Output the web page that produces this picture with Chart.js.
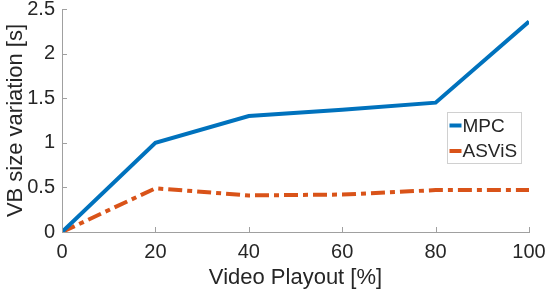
<!DOCTYPE html>
<html>
<head>
<meta charset="utf-8">
<script src="https://cdn.jsdelivr.net/npm/chart.js@4"></script>
<style>
  html, body { margin: 0; padding: 0; background: #fff; }
  #wrap { width: 550px; height: 294px; }
</style>
</head>
<body>
<div id="wrap"><canvas id="grafico" width="550" height="294"></canvas></div>
<script>
// datos
const playout = [0, 20, 40, 60, 80, 100];
const mpc = [0, 1.0, 1.3, 1.37, 1.45, 2.36];
const asvis = [0, 0.49, 0.41, 0.42, 0.47, 0.47];
const seriesNames = ['MPC', 'ASViS'];
const xTicks = [0, 20, 40, 60, 80, 100];
const yTicks = [0, 0.5, 1, 1.5, 2, 2.5];

const FONT = 'Liberation Sans, Arial, sans-serif';
const TXT = '#262626';
const AXIS = '#a0a0a0';

function toPoints(xs, ys) {
  return xs.map((x, i) => ({ x: x, y: ys[i] }));
}

// ticks hacia adentro y leyenda dentro del area
const matlabLook = {
  id: 'matlabLook',
  afterDraw(chart) {
    const c = chart.ctx;
    const xs = chart.scales.x, ys = chart.scales.y;
    const area = chart.chartArea;
    c.save();
    c.strokeStyle = AXIS;
    c.lineWidth = 1;
    c.beginPath();
    xTicks.forEach(v => {
      const px = Math.round(xs.getPixelForValue(v)) + 0.5;
      c.moveTo(px, area.bottom);
      c.lineTo(px, area.bottom - 5);
    });
    yTicks.forEach(v => {
      const py = Math.round(ys.getPixelForValue(v)) + 0.5;
      c.moveTo(area.left, py);
      c.lineTo(area.left + 5, py);
    });
    c.stroke();

    // leyenda
    const bx = 447.5, by = 112.5, bw = 74, bh = 51;
    c.fillStyle = '#fff';
    c.fillRect(bx, by, bw, bh);
    c.strokeStyle = '#d0d0d0';
    c.strokeRect(bx, by, bw, bh);
    c.font = '19px ' + FONT;
    c.textBaseline = 'middle';
    chart.data.datasets.forEach((ds, i) => {
      const yy = by + 13 + i * 25.5;
      c.strokeStyle = ds.borderColor;
      c.lineWidth = 4;
      c.setLineDash([]);
      c.beginPath();
      c.moveTo(bx + 2, yy);
      c.lineTo(bx + 14, yy);
      c.stroke();
      c.fillStyle = TXT;
      c.fillText(ds.label, bx + 15, yy + 1);
    });
    c.restore();
  }
};

const ctx = document.getElementById('grafico').getContext('2d');

const myChart = new Chart(ctx, {
  type: 'line',
  data: {
    datasets: [
      {
        label: seriesNames[0],
        data: toPoints(playout, mpc),
        borderColor: '#0072BD',
        borderWidth: 4,
        pointRadius: 0,
        fill: false,
        tension: 0
      },
      {
        label: seriesNames[1],
        data: toPoints(playout, asvis),
        borderColor: '#D95319',
        borderWidth: 4,
        borderDash: [14, 5, 5, 5],
        pointRadius: 0,
        fill: false,
        tension: 0
      }
    ]
  },
  options: {
    responsive: false,
    animation: false,
    layout: { padding: { top: 9, right: 21, left: 0, bottom: 0 } },
    plugins: {
      legend: { display: false },
      tooltip: { enabled: false }
    },
    scales: {
      x: {
        type: 'linear',
        min: 0,
        max: 100,
        afterBuildTicks: s => { s.ticks = xTicks.map(v => ({ value: v })); },
        afterFit: s => { s.height = 62; s.paddingLeft = 0; s.paddingRight = 0; },
        grid: { display: false, drawTicks: false },
        border: { display: true, color: AXIS, width: 1 },
        ticks: { color: TXT, font: { family: FONT, size: 20 }, padding: 8, maxRotation: 0 },
        title: {
          display: true,
          text: 'Video Playout [%]',
          color: TXT,
          font: { family: FONT, size: 22 },
          padding: { top: 2, bottom: 3 }
        }
      },
      y: {
        type: 'linear',
        min: 0,
        max: 2.5,
        afterBuildTicks: s => { s.ticks = yTicks.map(v => ({ value: v })); },
        afterFit: s => { s.width = 62; s.paddingTop = 0; s.paddingBottom = 0; },
        grid: { display: false, drawTicks: false },
        border: { display: true, color: AXIS, width: 1 },
        ticks: {
          color: TXT,
          font: { family: FONT, size: 20 },
          padding: 7,
          callback: v => String(v)
        },
        title: {
          display: true,
          text: 'VB size variation [s]',
          color: TXT,
          font: { family: FONT, size: 22 },
          padding: { top: 3, bottom: 4 }
        }
      }
    }
  },
  plugins: [matlabLook]
});
</script>
</body>
</html>
